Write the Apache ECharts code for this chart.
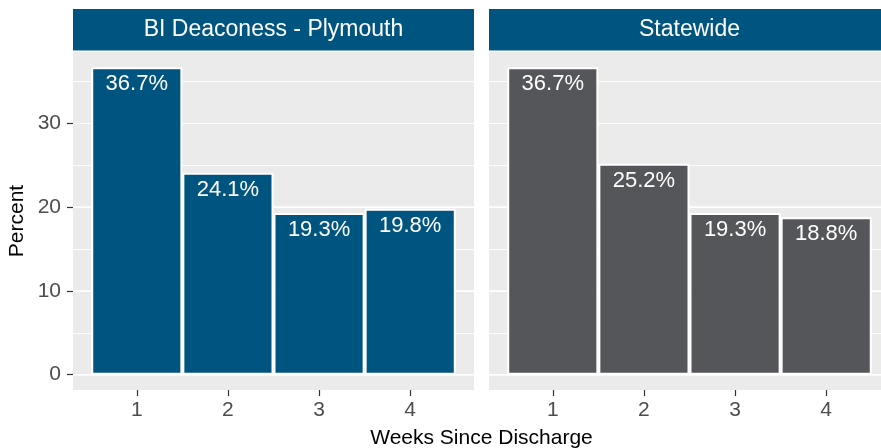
<!DOCTYPE html>
<html><head><meta charset="utf-8">
<script src="https://cdn.jsdelivr.net/npm/echarts@6/dist/echarts.min.js"></script>
<style>html,body{margin:0;padding:0;background:#fff}#c{width:881px;height:448px}</style>
</head><body><div id="c"></div>
<script>
// ---- data ----
const weeks = [1, 2, 3, 4];
const facetNames = ['BI Deaconess - Plymouth', 'Statewide'];
const plymouthPct = [36.7, 24.1, 19.3, 19.8];
const statewidePct = [36.7, 25.2, 19.3, 18.8];
const yTicks = [0, 10, 20, 30];
const xTitle = 'Weeks Since Discharge';
const yTitle = 'Percent';

// ---- styling / layout ----
const FONT = 'Liberation Sans, Arial, Helvetica, sans-serif';
const facetColors = ['#005580', '#55565A'];
const stripColor = '#005580';
const panelBg = '#EBEBEB';
const panelLeft = [73, 489];
const panelW = 401, panelTop = 52, panelH = 338;
const allVals = plymouthPct.concat(statewidePct);
const yMax = Math.max(...allVals) * 1.05;
const yMinExp = -Math.max(...allVals) * 0.05;
const dataH = panelH * (yMax) / (yMax - yMinExp);
const xMin = Math.min(...weeks) - 0.5 - 0.05 * (weeks.length);
const xMax = Math.max(...weeks) + 0.5 + 0.05 * (weeks.length);
const series = [plymouthPct, statewidePct];

const grid = [], xAxis = [], yAxis = [], seriesOpt = [], graphic = [];
for (let f = 0; f < 2; f++) {
  // background grid (panel incl. expansion below 0)
  grid.push({left: panelLeft[f], top: panelTop, width: panelW, height: panelH,
    show: true, backgroundColor: panelBg, borderWidth: 0, containLabel: false, outerBoundsMode: 'none'});
  // data grid
  grid.push({left: panelLeft[f], top: panelTop, width: panelW, height: dataH,
    show: false, containLabel: false, outerBoundsMode: 'none'});
  const gBg = f * 2, gData = f * 2 + 1;
  xAxis.push({gridIndex: gBg, type: 'value', min: xMin, max: xMax, position: 'bottom',
    axisLine: {show: false}, splitLine: {show: false},
    axisTick: {show: true, customValues: weeks, length: 6, lineStyle: {color: '#333333', width: 1.2}},
    axisLabel: {show: true, customValues: weeks, margin: 10, fontSize: 21, color: '#4D4D4D', fontFamily: FONT}});
  yAxis.push({gridIndex: gBg, type: 'value', min: 0, max: 1, show: false});
  xAxis.push({gridIndex: gData, type: 'value', min: xMin, max: xMax, show: false});
  // major
  yAxis.push({gridIndex: gData, type: 'value', min: 0, max: yMax, interval: 10, position: 'left',
    axisLine: {show: false},
    axisTick: {show: f === 0, customValues: yTicks, length: 6, lineStyle: {color: '#333333', width: 1.2}},
    axisLabel: {show: f === 0, customValues: yTicks, margin: 12, fontSize: 21, color: '#4D4D4D', fontFamily: FONT},
    splitLine: {show: true, showMaxLine: false, lineStyle: {color: '#FFFFFF', width: 1.6}}});
  // minor
  yAxis.push({gridIndex: gData, type: 'value', min: 0, max: yMax, interval: 5, position: 'right',
    axisLine: {show: false}, axisTick: {show: false}, axisLabel: {show: false},
    splitLine: {show: true, showMaxLine: false, lineStyle: {color: '#FFFFFF', width: 0.9}}});
  const yIdx = yAxis.length - 2;
  seriesOpt.push({type: 'bar', xAxisIndex: xAxis.length - 1, yAxisIndex: yIdx,
    data: weeks.map((w, i) => [w, series[f][i]]),
    barWidth: '100%',
    itemStyle: {color: facetColors[f], borderColor: '#FFFFFF', borderWidth: 2},
    label: {show: true, position: 'insideTop', distance: 6, color: '#FFFFFF', fontSize: 22, fontFamily: FONT,
      formatter: p => p.value[1].toFixed(1) + '%'},
    silent: true, animation: false});
  // strip
  graphic.push({type: 'rect', left: panelLeft[f], top: 9, shape: {width: panelW, height: 41.5},
    style: {fill: stripColor}, silent: true});
  graphic.push({type: 'text', x: panelLeft[f] + panelW / 2, y: 30,
    style: {text: facetNames[f], fill: '#FFFFFF', fontSize: 23, fontFamily: FONT, align: 'center', verticalAlign: 'middle'}, silent: true});
}
graphic.push({type: 'text', x: (panelLeft[0] + panelLeft[1] + panelW) / 2, y: 438,
  style: {text: xTitle, fill: '#000000', fontSize: 21, fontFamily: FONT, align: 'center', verticalAlign: 'middle'}, silent: true});
graphic.push({type: 'text', x: 17, y: panelTop + panelH / 2, rotation: Math.PI / 2,
  style: {text: yTitle, fill: '#000000', fontSize: 21, fontFamily: FONT, align: 'center', verticalAlign: 'middle'}, silent: true});

const chart = echarts.init(document.getElementById('c'), null, {renderer: 'canvas'});
chart.setOption({animation: false, grid, xAxis, yAxis, series: seriesOpt, graphic});
</script></body></html>
